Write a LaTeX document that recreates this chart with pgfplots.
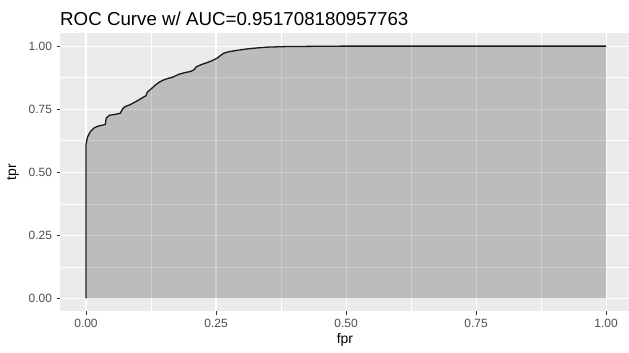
\documentclass[border=0pt]{standalone}
\usepackage{pgfplots}
\pgfplotsset{compat=1.18}
\usepackage{fontspec}
\setmainfont{Liberation Sans}
\definecolor{panel}{HTML}{EBEBEB}
\definecolor{ticklab}{HTML}{4D4D4D}
\definecolor{tickcol}{HTML}{333333}
\begin{document}
\begin{tikzpicture}[x=1bp,y=1bp]
\useasboundingbox (0,0) rectangle (629,352);
\begin{axis}[
  at={(60bp,41bp)}, anchor=south west,
  scale only axis, width=569bp, height=277.5bp,
  xmin=-0.05, xmax=1.044, ymin=-0.05, ymax=1.05,
  axis background/.style={fill=panel},
  axis line style={draw=none},
  xtick={0,0.25,0.5,0.75,1}, ytick={0,0.25,0.5,0.75,1},
  xticklabels={0.00,0.25,0.50,0.75,1.00},
  yticklabels={0.00,0.25,0.50,0.75,1.00},
  minor tick num=1,
  grid=both,
  major grid style={white, line width=1.1bp},
  minor grid style={white, line width=0.55bp},
  tick align=outside, major tick length=3.5bp, minor tick length=0pt,
  tick style={tickcol, line width=1bp},
  xtick pos=bottom, ytick pos=left,
  /pgf/number format/assume math mode=true,
  tick label style={font=\fontsize{12}{14}\selectfont, text=ticklab},
  xticklabel style={yshift=-1bp},
  yticklabel style={xshift=-1bp},
  clip=true,
]
\addplot[draw=none, fill=black, fill opacity=0.2] coordinates {
(0,0) (0,0.61) (0.003,0.64) (0.008,0.66) (0.015,0.675) (0.022,0.682) (0.03,0.686) (0.037,0.689) (0.039,0.715) (0.045,0.726) (0.055,0.729) (0.066,0.734) (0.07,0.75) (0.075,0.76) (0.085,0.768) (0.092,0.776) (0.1,0.785) (0.108,0.795) (0.115,0.803) (0.118,0.818) (0.125,0.83) (0.133,0.845) (0.14,0.856) (0.148,0.865) (0.158,0.872) (0.168,0.878) (0.178,0.888) (0.19,0.895) (0.2,0.899) (0.207,0.905) (0.212,0.918) (0.222,0.927) (0.232,0.934) (0.242,0.942) (0.252,0.952) (0.258,0.962) (0.265,0.972) (0.275,0.978) (0.29,0.983) (0.31,0.989) (0.33,0.993) (0.35,0.996) (0.38,0.998) (0.43,0.999) (0.5,1.0) (1,1) (1,0)
};
\addplot[draw=black!90, line width=1.3bp] coordinates {
(0,0) (0,0.61) (0.003,0.64) (0.008,0.66) (0.015,0.675) (0.022,0.682) (0.03,0.686) (0.037,0.689) (0.039,0.715) (0.045,0.726) (0.055,0.729) (0.066,0.734) (0.07,0.75) (0.075,0.76) (0.085,0.768) (0.092,0.776) (0.1,0.785) (0.108,0.795) (0.115,0.803) (0.118,0.818) (0.125,0.83) (0.133,0.845) (0.14,0.856) (0.148,0.865) (0.158,0.872) (0.168,0.878) (0.178,0.888) (0.19,0.895) (0.2,0.899) (0.207,0.905) (0.212,0.918) (0.222,0.927) (0.232,0.934) (0.242,0.942) (0.252,0.952) (0.258,0.962) (0.265,0.972) (0.275,0.978) (0.29,0.983) (0.31,0.989) (0.33,0.993) (0.35,0.996) (0.38,0.998) (0.43,0.999) (0.5,1.0) (1,1)
};
\end{axis}
\node[anchor=base west, inner sep=0pt, font=\fontsize{18.8}{22}\selectfont] at (60,327) {ROC Curve w/ AUC=0.951708180957763};
\node[anchor=center, inner sep=0pt, font=\fontsize{14}{16}\selectfont] at (345,12) {fpr};
\node[anchor=center, inner sep=0pt, rotate=90, font=\fontsize{14}{16}\selectfont] at (13,180) {tpr};
\end{tikzpicture}
\end{document}
